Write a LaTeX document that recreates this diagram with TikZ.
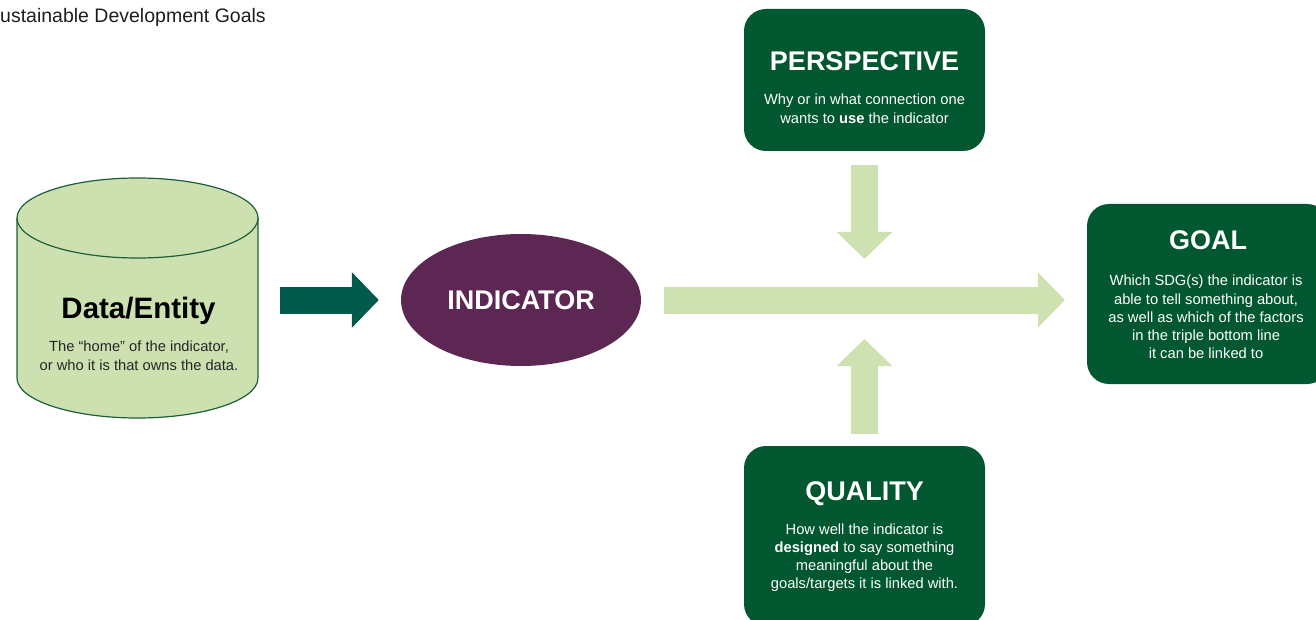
\documentclass[tikz,border=0pt]{standalone}
\usepackage{fontspec}
\setmainfont{Liberation Sans}
\usetikzlibrary{arrows.meta,shapes.geometric}
\definecolor{dkgreen}{HTML}{01572F}
\definecolor{ltgreen}{HTML}{CDE1B1}
\definecolor{myteal}{HTML}{005A4C}
\definecolor{plum}{HTML}{5C2752}
\definecolor{cylfill}{HTML}{CDE1B0}
\definecolor{cylline}{HTML}{1E5E3A}
\definecolor{captxt}{HTML}{1E1E1E}
\begin{document}
\begin{tikzpicture}[x=1pt,y=-1pt,
  box/.style={draw=none, fill=dkgreen, rounded corners=22pt, minimum width=241pt, inner sep=0pt},
  ttl/.style={anchor=base, text=white, inner sep=0pt, font=\fontsize{27}{30}\selectfont\bfseries},
  bodytxt/.style={anchor=base, text=white, inner sep=0pt, font=\fontsize{14.7}{18}\selectfont},
  fat/.style={line width=27pt, -{Triangle[length=27pt,width=54pt]}},
]
\useasboundingbox (0,0) rectangle (1316,620);
\clip (0,0) rectangle (1316,620);

% caption (as printed, cut at the left edge)
\node[anchor=base west, inner sep=0pt, text=captxt, font=\fontsize{19.5}{21}\selectfont] (cap) at (0,22.5) {ustainable Development Goals};

% cylinder
\node[minimum width=241pt, minimum height=236pt, inner sep=0pt] (cyl) at (137.5,300) {};
\filldraw[fill=cylfill, draw=cylline, line width=1.2pt]
  (17,218) -- (17,378) arc[start angle=180, end angle=0, x radius=120.5, y radius=40] -- (258,218);
\filldraw[fill=cylfill, draw=cylline, line width=1.2pt] (137.5,218) ellipse[x radius=120.5, y radius=40];
\node[anchor=base, inner sep=0pt, font=\fontsize{29.5}{32}\selectfont\bfseries] (dtitle) at (138.5,318) {Data/Entity};
\node[anchor=base, inner sep=0pt, font=\fontsize{14.7}{18}\selectfont, text=black!85] (dl1) at (139,351.5) {The “home” of the indicator,};
\node[anchor=base, inner sep=0pt, font=\fontsize{14.7}{18}\selectfont, text=black!85] (dl2) at (139,370) {or who it is that owns the data.};

% indicator
\node[ellipse, fill=plum, minimum width=240pt, minimum height=132pt, inner sep=0pt,
      text=white, font=\fontsize{27}{30}\selectfont\bfseries] (ind) at (521,300) {INDICATOR};

% boxes
\node[box, minimum height=142pt] (persp) at (864.5,80) {};
\node[box, minimum height=180pt, minimum width=242pt] (goal) at (1208,294) {};
\node[box, minimum height=180pt] (qual) at (864.5,536) {};

\node[ttl] (pt) at (864.5,71) {PERSPECTIVE};
\node[bodytxt] (p1) at (864.5,105) {Why or in what connection one};
\node[bodytxt] (p2) at (864.5,124) {wants to \textbf{use} the indicator};

\node[ttl] (gt) at (1208,250) {GOAL};
\node[bodytxt] (g1) at (1206,285.5) {Which SDG(s) the indicator is};
\node[bodytxt] (g2) at (1206,304) {able to tell something about,};
\node[bodytxt] (g3) at (1206,322.5) {as well as which of the factors};
\node[bodytxt] (g4) at (1206,340.5) {in the triple bottom line};
\node[bodytxt] (g5) at (1206,358.5) {it can be linked to};

\node[ttl] (qt) at (864.5,500) {QUALITY};
\node[bodytxt] (q1) at (864.5,534) {How well the indicator is};
\node[bodytxt] (q2) at (864.5,552.5) {\textbf{designed} to say something};
\node[bodytxt] (q3) at (864.5,570.5) {meaningful about the};
\node[bodytxt] (q4) at (864.5,588) {goals/targets it is linked with.};

% arrows
\coordinate (hub) at (864.5,299);
\draw[fat, myteal, shorten <=22pt, shorten >=22pt] (cyl.east) -- (ind.west);
\draw[fat, ltgreen, shorten <=23pt, shorten >=22pt] (ind.east) -- (ind.east -| goal.west);
\draw[fat, ltgreen, shorten <=14pt, shorten >=40pt] (persp.south) -- (hub);
\draw[fat, ltgreen, shorten <=12pt, shorten >=40pt] (qual.north) -- (hub);
\end{tikzpicture}
\end{document}
